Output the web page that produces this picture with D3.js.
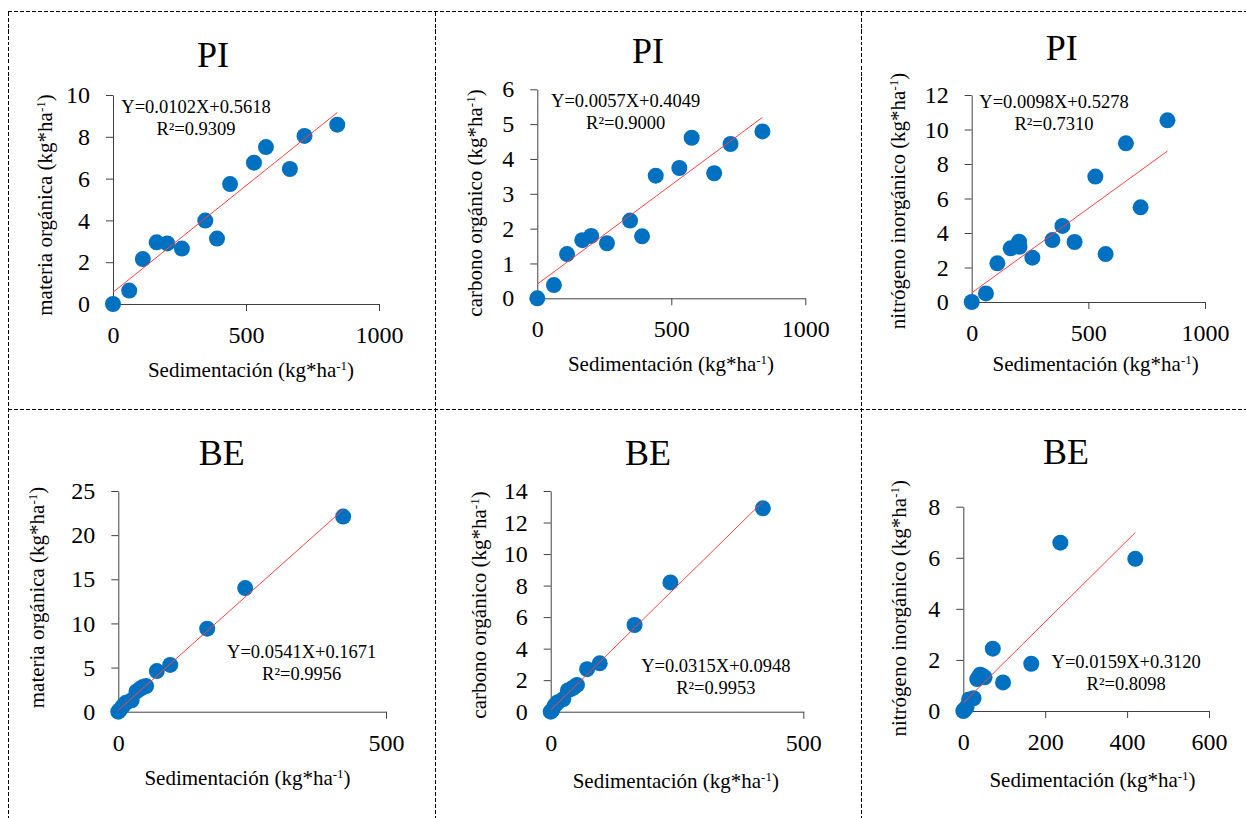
<!DOCTYPE html>
<html>
<head>
<meta charset="utf-8">
<script src="https://cdn.jsdelivr.net/npm/d3@7"></script>
<style>
  body { margin: 0; background: #fff; }
  svg, svg text, svg tspan { font-family: "Liberation Serif", "Times New Roman", Times, serif !important; }
</style>
</head>
<body>
<div id="chart"></div>
<script>
// data
var piSedMO = [0, 61, 112, 164, 204, 259, 347, 391, 440, 530, 575, 665, 720, 843];
var piMO    = [0, 0.64, 2.15, 2.95, 2.9, 2.65, 3.99, 3.13, 5.74, 6.76, 7.51, 6.46, 8.04, 8.58];
var piSedCO = [0, 62, 111, 168, 201, 260, 346, 391, 442, 530, 576, 660, 721, 840];
var piCO    = [0, 0.38, 1.27, 1.67, 1.79, 1.58, 2.23, 1.78, 3.52, 3.74, 4.61, 3.59, 4.43, 4.79];
var piSedN  = [0, 61, 110, 167, 203, 205, 260, 346, 389, 441, 530, 574, 661, 724, 839];
var piN     = [0, 0.5, 2.24, 3.11, 3.5, 3.2, 2.57, 3.59, 4.41, 3.48, 7.27, 2.78, 9.2, 5.49, 10.53];

var beSed = [0, 3, 8, 14, 25, 34, 41, 46, 52, 72, 97, 166, 237, 420];
var beMO  = [0, 0.2, 0.6, 1.0, 1.3, 2.3, 2.6, 2.8, 2.9, 4.6, 5.3, 9.4, 14.0, 22.1];
var beCO  = [0, 0.1, 0.4, 0.6, 0.8, 1.35, 1.45, 1.55, 1.7, 2.7, 3.07, 5.5, 8.2, 12.9];
var beN   = [0, 0.05, 0.15, 0.45, 0.5, 1.25, 1.42, 1.38, 1.32, 2.44, 1.12, 1.85, 6.59, 5.96];

var titles = ["PI", "PI", "PI", "BE", "BE", "BE"];
var yLabels = ["materia orgánica", "carbono orgánico", "nitrógeno inorgánico",
               "materia orgánica", "carbono orgánico", "nitrógeno inorgánico"];
var slopes = ["0.0102", "0.0057", "0.0098", "0.0541", "0.0315", "0.0159"];
var intercepts = ["0.5618", "0.4049", "0.5278", "0.1671", "0.0948", "0.3120"];
var r2 = ["0.9309", "0.9000", "0.7310", "0.9956", "0.9953", "0.8098"];
var xTicks = [[0, 500, 1000], [0, 500, 1000], [0, 500, 1000], [0, 500], [0, 500], [0, 200, 400, 600]];
var yTicks = [[0, 2, 4, 6, 8, 10], [0, 1, 2, 3, 4, 5, 6], [0, 2, 4, 6, 8, 10, 12],
              [0, 5, 10, 15, 20, 25], [0, 2, 4, 6, 8, 10, 12, 14], [0, 2, 4, 6, 8]];
var xs = [piSedMO, piSedCO, piSedN, beSed, beSed, beSed];
var ys = [piMO, piCO, piN, beMO, beCO, beN];

// layout of each panel (pixels)
var layout = [
  { l: 113,   r: 379,   b: 304,   t: 95,    title: [213, 67],    eq: [196, 113],   yt: [45, 205],    xt: [251, 377] },
  { l: 537.3, r: 805.3, b: 298.3, t: 89.3,  title: [648, 63],    eq: [625.7, 107], yt: [475, 203],   xt: [671, 371] },
  { l: 971.7, r: 1205,  b: 302,   t: 95,    title: [1061.7, 60], eq: [1054, 108],  yt: [898, 201],   xt: [1095.7, 371] },
  { l: 118.3, r: 386,   b: 711.7, t: 491,   title: [221.7, 465], eq: [301.7, 658], yt: [36.7, 597.5], xt: [247.5, 785] },
  { l: 550.7, r: 803.3, b: 711.7, t: 491,   title: [648, 465],   eq: [715.8, 671.5], yt: [479.3, 605], xt: [675.8, 787.7] },
  { l: 963.3, r: 1209,  b: 711,   t: 506.7, title: [1066, 464],  eq: [1126.2, 668.3], yt: [899.3, 608.3], xt: [1092.5, 786.7] }
];

var serif = "'Liberation Serif', 'Times New Roman', Times, serif";
var W = 1246, H = 818;
var svg = d3.select("#chart").append("svg")
  .attr("width", W)
  .attr("height", H)
  .style("font-family", serif);

// dashed frame
var frame = svg.append("g")
  .attr("stroke", "#000")
  .attr("stroke-width", 1)
  .attr("stroke-dasharray", "4,2")
  .attr("shape-rendering", "crispEdges");
frame.append("line").attr("x1", 8).attr("x2", W).attr("y1", 11.5).attr("y2", 11.5);
frame.append("line").attr("x1", 8).attr("x2", W).attr("y1", 409.5).attr("y2", 409.5);
[8.5, 435.5, 861.5].forEach(function(x) {
  frame.append("line").attr("x1", x).attr("x2", x).attr("y1", 11.5).attr("y2", H);
});

function unitText(sel, label) {
  sel.append("tspan").text(label + " (kg*ha");
  sel.append("tspan").attr("font-size", "0.62em").attr("dy", "-0.55em").text("-1");
  sel.append("tspan").attr("dy", "0.34em").text(")");
}

layout.forEach(function(p, i) {
  var xMax = xTicks[i][xTicks[i].length - 1];
  var yMax = yTicks[i][yTicks[i].length - 1];
  var x = d3.scaleLinear().domain([0, xMax]).range([p.l, p.r]);
  var y = d3.scaleLinear().domain([0, yMax]).range([p.b, p.t]);
  var g = svg.append("g");

  var xAxis = g.append("g")
    .attr("transform", "translate(0," + p.b + ")")
    .call(d3.axisBottom(x).tickValues(xTicks[i]).tickFormat(d3.format("d"))
      .tickSize(7).tickSizeOuter(0).tickPadding(15));
  var yAxis = g.append("g")
    .attr("transform", "translate(" + p.l + ",0)")
    .call(d3.axisLeft(y).tickValues(yTicks[i]).tickFormat(d3.format("d"))
      .tickSize(7).tickSizeOuter(0).tickPadding(16));
  [xAxis, yAxis].forEach(function(a) {
    a.attr("font-family", null).style("font-family", serif);
    a.selectAll("path, line").attr("stroke", "#404040");
    a.selectAll("text").attr("font-size", 24).attr("fill", "#000").style("font-family", serif);
  });

  // points
  g.append("g").selectAll("circle")
    .data(xs[i].map(function(v, k) { return [v, ys[i][k]]; }))
    .join("circle")
    .attr("cx", function(d) { return x(d[0]); })
    .attr("cy", function(d) { return y(d[1]); })
    .attr("r", 8)
    .attr("fill", "#0070c0");

  // trend line
  var m = +slopes[i], c = +intercepts[i];
  var xEnd = d3.max(xs[i]);
  g.append("line")
    .attr("x1", x(0)).attr("y1", y(c))
    .attr("x2", x(xEnd)).attr("y2", y(m * xEnd + c))
    .attr("stroke", "#ff4040")
    .attr("stroke-width", 1);

  // titles
  g.append("text")
    .attr("x", p.title[0]).attr("y", p.title[1])
    .attr("text-anchor", "middle")
    .attr("font-size", 36)
    .text(titles[i]);

  g.append("text")
    .attr("x", p.eq[0]).attr("y", p.eq[1])
    .attr("text-anchor", "middle")
    .attr("font-size", 18.5)
    .text("Y=" + slopes[i] + "X+" + intercepts[i]);
  g.append("text")
    .attr("x", p.eq[0]).attr("y", p.eq[1] + 22)
    .attr("text-anchor", "middle")
    .attr("font-size", 18.5)
    .text("R²=" + r2[i]);

  g.append("text")
    .attr("x", p.xt[0]).attr("y", p.xt[1])
    .attr("text-anchor", "middle")
    .attr("font-size", 21)
    .call(unitText, "Sedimentación");

  g.append("text")
    .attr("transform", "translate(" + (p.yt[0] + 7) + "," + p.yt[1] + ")rotate(-90)")
    .attr("text-anchor", "middle")
    .attr("font-size", 21)
    .call(unitText, yLabels[i]);
});
</script>
</body>
</html>
